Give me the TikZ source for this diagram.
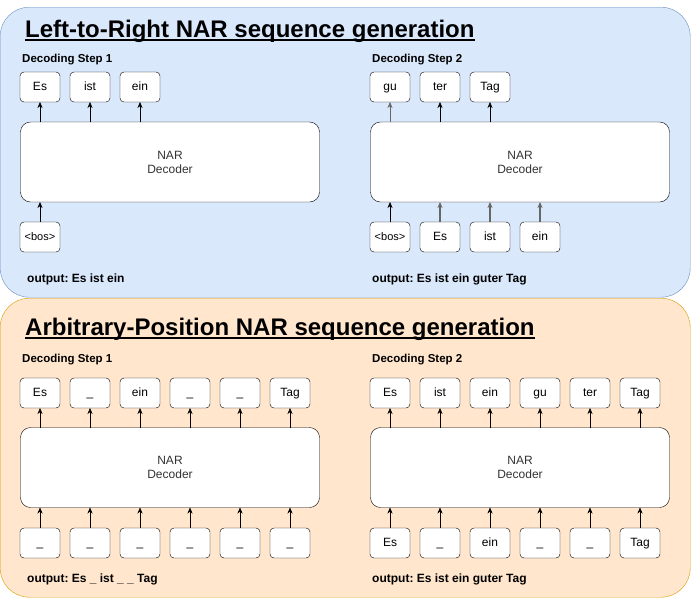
\documentclass[tikz,border=0pt]{standalone}
\usepackage{fontspec}
\setmainfont{Liberation Sans}
\usetikzlibrary{positioning,arrows.meta}
\definecolor{lrfill}{HTML}{DAE8FC}
\definecolor{lrdraw}{HTML}{6C8EBF}
\definecolor{apfill}{HTML}{FFE6CC}
\definecolor{apdraw}{HTML}{D79B00}
\definecolor{fadedarrow}{HTML}{666666}
\frenchspacing
\newsavebox\headbox
\newcommand\thickul[1]{\sbox\headbox{#1}\rlap{\rule[-4pt]{\wd\headbox}{1.7pt}}\usebox\headbox}

\begin{document}
\begin{tikzpicture}[
		x=1pt, y=-1pt,
		node distance=10pt,
		>={Stealth[length=6pt,width=5pt]},
		panel/.style={rectangle, rounded corners=29pt, anchor=north west, minimum width=690pt, inner sep=0pt},
		heading/.style={anchor=base west, inner sep=0pt, font=\fontsize{24}{28}\selectfont\bfseries},
		steptag/.style={anchor=base west, inner sep=0pt, font=\fontsize{11.5}{13}\selectfont\bfseries},
		outtag/.style={anchor=base west, inner sep=0pt, font=\fontsize{12}{14}\selectfont\bfseries},
		tok/.style={rectangle, draw, fill=white, rounded corners=4pt, minimum width=40pt, minimum height=30pt, inner sep=0pt, outer sep=0pt, text height=9pt, text depth=2.5pt, font=\fontsize{12}{14}\selectfont},
		bostok/.style={tok, font=\fontsize{11}{13}\selectfont},
		nar/.style={rectangle, draw, fill=white, rounded corners=10pt, minimum width=299pt, minimum height=80pt, align=center, outer sep=0pt, text=black!80, font=\fontsize{12}{14}\selectfont}
	]
	\useasboundingbox (0,0) rectangle (691,598);

	% panels
	\node (lrpanel) [panel, fill=lrfill, draw=lrdraw, minimum height=290pt] at (0,7) {};
	\node (appanel) [panel, fill=apfill, draw=apdraw, minimum height=299pt] at (0,298) {};

	% left-to-right
	\node (lrhead) [heading] at (25,37) {\thickul{Left-to-Right NAR sequence generation}};
	\node (lr1tag) [steptag] at (22,62) {Decoding Step 1};
	\node (lr1o1) [tok] at (40,87) {Es};
	\node (lr1o2) [tok, right=of lr1o1] {ist};
	\node (lr1o3) [tok, right=of lr1o2] {ein};
	\node (lr1dec) [nar] at (170,162) {NAR\\Decoder};
	\node (lr1i1) [bostok] at (40,237) {<bos>};
	\node (lr1out) [outtag] at (27,282) {output: Es ist ein};

	\draw [->] (lr1o1 |- lr1dec.north) -- (lr1o1);
	\draw [->] (lr1o2 |- lr1dec.north) -- (lr1o2);
	\draw [->] (lr1o3 |- lr1dec.north) -- (lr1o3);
	\draw [->] (lr1i1) -- (lr1i1 |- lr1dec.south);

	\node (lr2tag) [steptag] at (372,62) {Decoding Step 2};
	\node (lr2o1) [tok] at (390,87) {gu};
	\node (lr2o2) [tok, right=of lr2o1] {ter};
	\node (lr2o3) [tok, right=of lr2o2] {Tag};
	\node (lr2dec) [nar] at (520,162) {NAR\\Decoder};
	\node (lr2i1) [bostok] at (390,237) {<bos>};
	\node (lr2i2) [tok, right=of lr2i1] {Es};
	\node (lr2i3) [tok, right=of lr2i2] {ist};
	\node (lr2i4) [tok, right=of lr2i3] {ein};
	\node (lr2out) [outtag] at (372,282) {output: Es ist ein guter Tag};

	\draw [->, draw=fadedarrow] (lr2o1 |- lr2dec.north) -- (lr2o1);
	\draw [->] (lr2o2 |- lr2dec.north) -- (lr2o2);
	\draw [->] (lr2o3 |- lr2dec.north) -- (lr2o3);
	\draw [->] (lr2i1) -- (lr2i1 |- lr2dec.south);
	\draw [->, draw=fadedarrow, line width=1.2pt] (lr2i2) -- (lr2i2 |- lr2dec.south);
	\draw [->, draw=fadedarrow, line width=1.2pt] (lr2i3) -- (lr2i3 |- lr2dec.south);
	\draw [->, draw=fadedarrow, line width=1.2pt] (lr2i4) -- (lr2i4 |- lr2dec.south);

	% arbitrary position
	\node (aphead) [heading] at (25,335) {\thickul{Arbitrary-Position NAR sequence generation}};
	\node (ap1tag) [steptag] at (22,362) {Decoding Step 1};
	\node (ap1o1) [tok] at (40,393) {Es};
	\node (ap1o2) [tok, right=of ap1o1] {\_};
	\node (ap1o3) [tok, right=of ap1o2] {ein};
	\node (ap1o4) [tok, right=of ap1o3] {\_};
	\node (ap1o5) [tok, right=of ap1o4] {\_};
	\node (ap1o6) [tok, right=of ap1o5] {Tag};
	\node (ap1dec) [nar] at (170,467.5) {NAR\\Decoder};
	\node (ap1i1) [tok] at (40,543) {\_};
	\node (ap1i2) [tok, right=of ap1i1] {\_};
	\node (ap1i3) [tok, right=of ap1i2] {\_};
	\node (ap1i4) [tok, right=of ap1i3] {\_};
	\node (ap1i5) [tok, right=of ap1i4] {\_};
	\node (ap1i6) [tok, right=of ap1i5] {\_};
	\node (ap1out) [outtag] at (27,582) {output: Es \_ ist \_ \_ Tag};

	\draw [->] (ap1o1 |- ap1dec.north) -- (ap1o1);
	\draw [->] (ap1o2 |- ap1dec.north) -- (ap1o2);
	\draw [->] (ap1o3 |- ap1dec.north) -- (ap1o3);
	\draw [->] (ap1o4 |- ap1dec.north) -- (ap1o4);
	\draw [->] (ap1o5 |- ap1dec.north) -- (ap1o5);
	\draw [->] (ap1o6 |- ap1dec.north) -- (ap1o6);
	\draw [->] (ap1i1) -- (ap1i1 |- ap1dec.south);
	\draw [->] (ap1i2) -- (ap1i2 |- ap1dec.south);
	\draw [->] (ap1i3) -- (ap1i3 |- ap1dec.south);
	\draw [->] (ap1i4) -- (ap1i4 |- ap1dec.south);
	\draw [->] (ap1i5) -- (ap1i5 |- ap1dec.south);
	\draw [->] (ap1i6) -- (ap1i6 |- ap1dec.south);

	\node (ap2tag) [steptag] at (372,362) {Decoding Step 2};
	\node (ap2o1) [tok] at (390,393) {Es};
	\node (ap2o2) [tok, right=of ap2o1] {ist};
	\node (ap2o3) [tok, right=of ap2o2] {ein};
	\node (ap2o4) [tok, right=of ap2o3] {gu};
	\node (ap2o5) [tok, right=of ap2o4] {ter};
	\node (ap2o6) [tok, right=of ap2o5] {Tag};
	\node (ap2dec) [nar] at (520,467.5) {NAR\\Decoder};
	\node (ap2i1) [tok] at (390,543) {Es};
	\node (ap2i2) [tok, right=of ap2i1] {\_};
	\node (ap2i3) [tok, right=of ap2i2] {ein};
	\node (ap2i4) [tok, right=of ap2i3] {\_};
	\node (ap2i5) [tok, right=of ap2i4] {\_};
	\node (ap2i6) [tok, right=of ap2i5] {Tag};
	\node (ap2out) [outtag] at (372,582) {output: Es ist ein guter Tag};

	\draw [->] (ap2o1 |- ap2dec.north) -- (ap2o1);
	\draw [->] (ap2o2 |- ap2dec.north) -- (ap2o2);
	\draw [->] (ap2o3 |- ap2dec.north) -- (ap2o3);
	\draw [->] (ap2o4 |- ap2dec.north) -- (ap2o4);
	\draw [->] (ap2o5 |- ap2dec.north) -- (ap2o5);
	\draw [->] (ap2o6 |- ap2dec.north) -- (ap2o6);
	\draw [->] (ap2i1) -- (ap2i1 |- ap2dec.south);
	\draw [->] (ap2i2) -- (ap2i2 |- ap2dec.south);
	\draw [->] (ap2i3) -- (ap2i3 |- ap2dec.south);
	\draw [->] (ap2i4) -- (ap2i4 |- ap2dec.south);
	\draw [->] (ap2i5) -- (ap2i5 |- ap2dec.south);
	\draw [->] (ap2i6) -- (ap2i6 |- ap2dec.south);
\end{tikzpicture}
\end{document}
